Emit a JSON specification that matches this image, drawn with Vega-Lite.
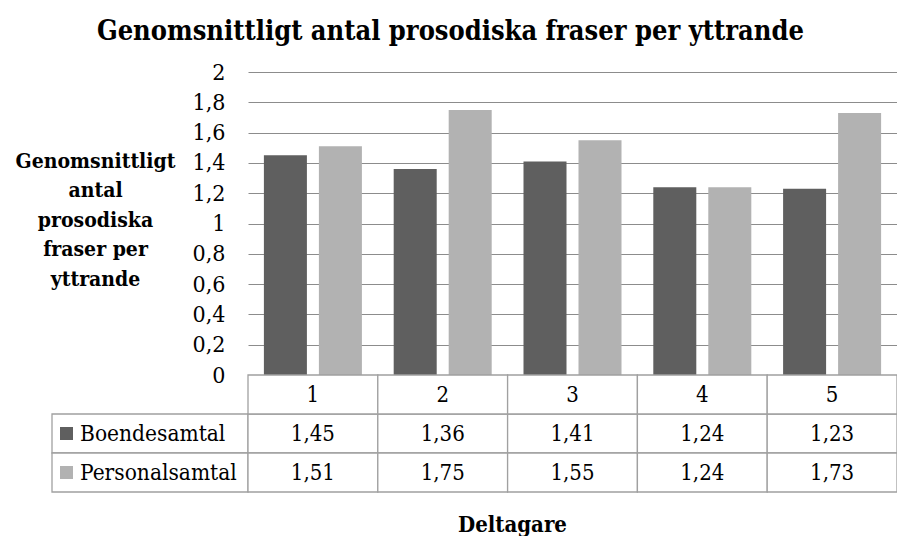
{
  "$schema": "https://vega.github.io/schema/vega-lite/v6.json",
  "padding": {"left": 15, "top": 18, "right": 0, "bottom": 0},
  "background": "white",
  "config": {
    "font": "DejaVu Serif Condensed",
    "view": {"stroke": null},
    "locale": {"number": {"decimal": ",", "thousands": " ", "grouping": [3], "currency": ["", " kr"]}}
  },
  "datasets": {
    "bars": [
      {"participant": "1", "series": "Boendesamtal", "value": 1.45},
      {"participant": "1", "series": "Personalsamtal", "value": 1.51},
      {"participant": "2", "series": "Boendesamtal", "value": 1.36},
      {"participant": "2", "series": "Personalsamtal", "value": 1.75},
      {"participant": "3", "series": "Boendesamtal", "value": 1.41},
      {"participant": "3", "series": "Personalsamtal", "value": 1.55},
      {"participant": "4", "series": "Boendesamtal", "value": 1.24},
      {"participant": "4", "series": "Personalsamtal", "value": 1.24},
      {"participant": "5", "series": "Boendesamtal", "value": 1.23},
      {"participant": "5", "series": "Personalsamtal", "value": 1.73}
    ]
  },
  "title": {
    "text": "Genomsnittligt antal prosodiska fraser per yttrande",
    "font": "DejaVu Serif Condensed",
    "fontSize": 27,
    "fontWeight": "bold",
    "color": "black",
    "anchor": "middle",
    "dx": -6,
    "offset": 15
  },
  "columns": 2,
  "spacing": 0,
  "bounds": "flush",
  "concat": [
    {
      "width": 196,
      "height": 303,
      "data": {"values": []},
      "mark": "point"
    },
    {
      "width": 649,
      "height": 303,
      "data": {"name": "bars"},
      "mark": {"type": "bar"},
      "encoding": {
        "x": {"field": "participant", "type": "nominal", "scale": {"paddingInner": 0, "paddingOuter": 0}, "axis": null},
        "xOffset": {"field": "series", "type": "nominal", "scale": {"domain": ["Boendesamtal", "Personalsamtal"], "paddingInner": 0.218, "paddingOuter": 0.289}},
        "y": {
          "field": "value", "type": "quantitative",
          "scale": {"domain": [0, 2], "nice": false},
          "axis": {
            "values": [0, 0.2, 0.4, 0.6, 0.8, 1, 1.2, 1.4, 1.6, 1.8, 2],
            "format": "~g",
            "grid": true, "gridColor": "#8c8c8c", "gridWidth": 1,
            "domain": false, "ticks": false,
            "labelPadding": 23, "labelFontSize": 23, "labelColor": "black", "labelFont": "DejaVu Serif Condensed",
            "title": ["Genomsnittligt", "antal", "prosodiska", "fraser per", "yttrande"],
            "titleFont": "DejaVu Serif Condensed", "titleFontSize": 21, "titleFontWeight": "bold", "titleColor": "black",
            "titleAngle": 0, "titleAlign": "center", "titleBaseline": "middle",
            "titleLineHeight": 29.5, "titleX": -153, "titleY": 89
          }
        },
        "color": {"field": "series", "type": "nominal", "scale": {"domain": ["Boendesamtal", "Personalsamtal"], "range": ["#5f5f5f", "#b2b2b2"]}, "legend": null}
      }
    },
    {
      "width": 196,
      "height": 117,
      "data": {"name": "bars"},
      "transform": [{"filter": "datum.participant == '1'"}],
      "encoding": {
        "y": {"field": "series", "type": "nominal", "scale": {"domain": ["h", "Boendesamtal", "Personalsamtal"], "paddingInner": 0, "paddingOuter": 0}, "axis": null}
      },
      "layer": [
        {
          "mark": {"type": "rect", "fill": "white", "stroke": "#a0a0a0", "strokeWidth": 1.3},
          "encoding": {
            "x": {"datum": 0, "type": "quantitative", "scale": {"domain": [0, 1], "nice": false, "zero": false}, "axis": null},
            "x2": {"datum": 1}
          }
        },
        {
          "mark": {"type": "point", "shape": "square", "filled": true, "size": 169, "opacity": 1},
          "encoding": {
            "x": {"datum": 0.074, "type": "quantitative"},
            "color": {"field": "series", "type": "nominal", "scale": {"domain": ["Boendesamtal", "Personalsamtal"], "range": ["#5f5f5f", "#b2b2b2"]}, "legend": null}
          }
        },
        {
          "mark": {"type": "text", "align": "left", "baseline": "middle", "fontSize": 22.5, "color": "black", "font": "DejaVu Serif Condensed"},
          "encoding": {
            "x": {"datum": 0.143, "type": "quantitative"},
            "text": {"field": "series"}
          }
        }
      ]
    },
    {
      "width": 649,
      "height": 117,
      "data": {"name": "bars"},
      "title": {"text": "Deltagare", "orient": "bottom", "fontSize": 22, "fontWeight": "bold", "font": "DejaVu Serif Condensed", "color": "black", "dx": -60, "offset": 22},
      "encoding": {
        "x": {"field": "participant", "type": "nominal", "scale": {"paddingInner": 0, "paddingOuter": 0}, "axis": null}
      },
      "layer": [
        {
          "mark": {"type": "rect", "fill": "white", "stroke": "#a0a0a0", "strokeWidth": 1.3},
          "encoding": {
            "y": {"field": "series", "type": "nominal", "scale": {"domain": ["h", "Boendesamtal", "Personalsamtal"], "paddingInner": 0, "paddingOuter": 0}, "axis": null}
          }
        },
        {
          "transform": [{"filter": "datum.series == 'Boendesamtal'"}],
          "mark": {"type": "rect", "fill": "white", "stroke": "#a0a0a0", "strokeWidth": 1.3},
          "encoding": {
            "y": {"datum": "h"}
          }
        },
        {
          "mark": {"type": "text", "fontSize": 22, "color": "black", "baseline": "middle", "font": "DejaVu Serif Condensed"},
          "encoding": {
            "y": {"field": "series", "type": "nominal"},
            "text": {"field": "value", "type": "quantitative", "format": ".2f"}
          }
        },
        {
          "transform": [{"filter": "datum.series == 'Boendesamtal'"}],
          "mark": {"type": "text", "fontSize": 22, "color": "black", "baseline": "middle", "font": "DejaVu Serif Condensed"},
          "encoding": {
            "y": {"datum": "h"},
            "text": {"field": "participant"}
          }
        }
      ]
    }
  ]
}
